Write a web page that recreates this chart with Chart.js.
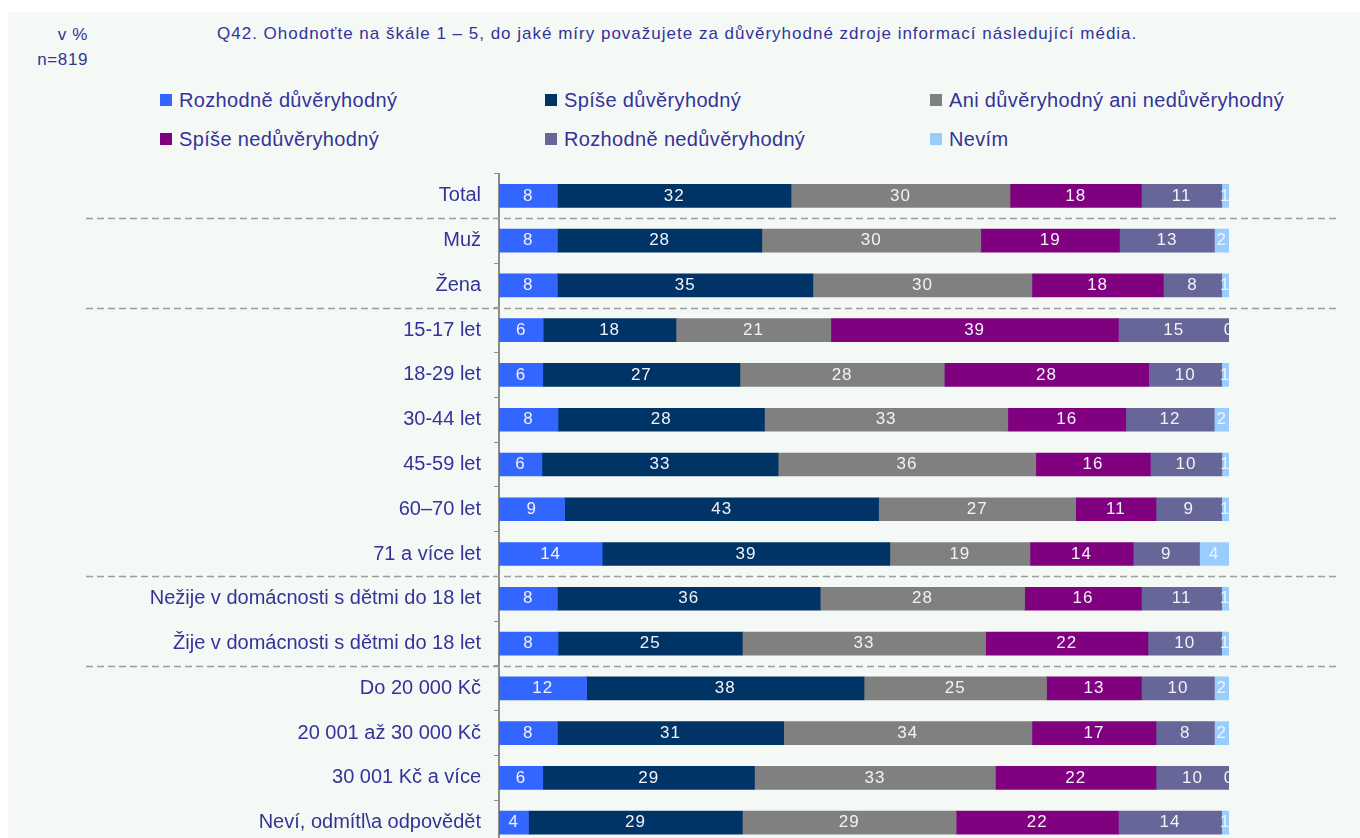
<!DOCTYPE html>
<html>
<head>
<meta charset="utf-8">
<script src="https://cdn.jsdelivr.net/npm/chart.js@4/dist/chart.umd.min.js"></script>
<style>
  html, body { margin: 0; padding: 0; width: 1360px; height: 838px; overflow: hidden; background: #ffffff; }
  body { font-family: "Liberation Sans", Arial, sans-serif; }
  #panel { position: absolute; left: 8px; top: 12px; width: 1352px; height: 826px; background: #f5f9f6; }
  .txt { position: absolute; color: #333399; white-space: nowrap; line-height: 1; }
  #unit { right: 1272px; top: 22px; font-size: 17px; text-align: right; line-height: 25px; letter-spacing: 0.6px; }
  #title { left: 217px; top: 25px; font-size: 17px; letter-spacing: 1px; }
  .leg { position: absolute; display: flex; align-items: center; color: #333399; font-size: 20px; white-space: nowrap; letter-spacing: 0.35px; }
  .leg i { display: inline-block; width: 12px; height: 12px; margin-right: 7px; }
  #wrap { position: absolute; left: 0; top: 0; width: 1360px; height: 870px; }
</style>
</head>
<body>
<div id="panel"></div>
<div id="unit" class="txt">v %<br>n=819</div>
<div id="title" class="txt">Q42. Ohodnoťte na škále 1 – 5, do jaké míry považujete za důvěryhodné zdroje informací následující média.</div>
<div id="legend"></div>
<div id="wrap"><canvas id="chart" width="1360" height="870"></canvas></div>
<script>
// Respondent groups (rows)
const categories = [
  'Total', 'Muž', 'Žena',
  '15-17 let', '18-29 let', '30-44 let', '45-59 let', '60–70 let', '71 a více let',
  'Nežije v domácnosti s dětmi do 18 let', 'Žije v domácnosti s dětmi do 18 let',
  'Do 20 000 Kč', '20 001 až 30 000 Kč', '30 001 Kč a více', 'Neví, odmítl\\a odpovědět'
];

// Answer scale
const seriesNames = [
  'Rozhodně důvěryhodný', 'Spíše důvěryhodný', 'Ani důvěryhodný ani nedůvěryhodný',
  'Spíše nedůvěryhodný', 'Rozhodně nedůvěryhodný', 'Nevím'
];
const seriesColors = ['#3366ff', '#003366', '#808080', '#800080', '#666699', '#99ccff'];

// Shares in % per row
const rozhodneDuveryhodny   = [8, 8, 8, 6, 6, 8, 6, 9, 14, 8, 8, 12, 8, 6, 4];
const spiseDuveryhodny      = [32, 28, 35, 18, 27, 28, 33, 43, 39, 36, 25, 38, 31, 29, 29];
const aniAni                = [30, 30, 30, 21, 28, 33, 36, 27, 19, 28, 33, 25, 34, 33, 29];
const spiseNeduveryhodny    = [18, 19, 18, 39, 28, 16, 16, 11, 14, 16, 22, 13, 17, 22, 22];
const rozhodneNeduveryhodny = [11, 13, 8, 15, 10, 12, 10, 9, 9, 11, 10, 10, 8, 10, 14];
const nevim                 = [1, 2, 1, 0, 1, 2, 1, 1, 4, 1, 1, 2, 2, 0, 1];

// Rows after which a group separator is drawn
const groupEnds = [0, 2, 8, 10];

const series = [rozhodneDuveryhodny, spiseDuveryhodny, aniAni, spiseNeduveryhodny, rozhodneNeduveryhodny, nevim];
const FONT = '"Liberation Sans", Arial, sans-serif';
const TEXT = '#333399';

// Legend: three columns, two rows
const legendCols = [160, 545, 930];
const legendRows = [100, 139];
const legendEl = document.getElementById('legend');
seriesNames.forEach((name, k) => {
  const d = document.createElement('div');
  d.className = 'leg';
  d.style.left = legendCols[k % 3] + 'px';
  d.style.top = (legendRows[Math.floor(k / 3)] - 12) + 'px';
  d.style.height = '24px';
  d.innerHTML = '<i style="background:' + seriesColors[k] + '"></i><span></span>';
  d.querySelector('span').textContent = name;
  legendEl.appendChild(d);
});

// 100 % stacked: each row is scaled to its own total
const rowTotals = categories.map((_, i) => series.reduce((s, arr) => s + arr[i], 0));

const datasets = series.map((arr, k) => ({
  label: seriesNames[k],
  data: arr.map((v, i) => v / rowTotals[i] * 100),
  valueLabels: arr,
  backgroundColor: seriesColors[k],
  borderWidth: 0,
  barThickness: 23
}));

// Value labels inside each segment
const segmentLabels = {
  id: 'segmentLabels',
  afterDatasetsDraw(chart) {
    const { ctx, chartArea } = chart;
    ctx.save();
    ctx.beginPath();
    ctx.rect(chartArea.left, chartArea.top, chartArea.right - chartArea.left + 1, chartArea.bottom - chartArea.top);
    ctx.clip();
    ctx.font = '17px ' + FONT;
    ctx.fillStyle = '#f2f2f8';
    ctx.textAlign = 'center';
    ctx.textBaseline = 'middle';
    if ('letterSpacing' in ctx) ctx.letterSpacing = '1px';
    chart.data.datasets.forEach((ds, k) => {
      const meta = chart.getDatasetMeta(k);
      meta.data.forEach((el, i) => {
        const x = (el.x + el.base) / 2;
        ctx.fillText(String(ds.valueLabels[i]), x, el.y);
      });
    });
    ctx.restore();
  }
};

// Dashed lines between respondent groups
const groupSeparators = {
  id: 'groupSeparators',
  afterDraw(chart) {
    const { ctx } = chart;
    const y = chart.scales.y;
    ctx.save();
    ctx.strokeStyle = '#9c9c9c';
    ctx.lineWidth = 1.5;
    ctx.setLineDash([7, 4]);
    groupEnds.forEach(i => {
      const py = Math.round((y.getPixelForValue(i) + y.getPixelForValue(i + 1)) / 2) + 0.5;
      ctx.beginPath();
      ctx.moveTo(86, py);
      ctx.lineTo(1337, py);
      ctx.stroke();
    });
    ctx.restore();
  }
};

new Chart(document.getElementById('chart'), {
  type: 'bar',
  data: { labels: categories, datasets },
  plugins: [segmentLabels, groupSeparators],
  options: {
    indexAxis: 'y',
    responsive: false,
    animation: false,
    devicePixelRatio: 1,
    layout: { padding: { left: 0, right: 131, top: 173.5, bottom: 21.5 } },
    plugins: { legend: { display: false }, tooltip: { enabled: false }, title: { display: false } },
    scales: {
      x: { display: false, stacked: true, min: 0, max: 100 },
      y: {
        stacked: true,
        afterFit(scale) { scale.width = 499; },
        grid: { display: true, drawOnChartArea: false, drawTicks: true, tickLength: 5, color: '#8c8c8c', lineWidth: 1, offset: true },
        border: { display: true, color: '#8c8c8c', width: 2 },
        ticks: { color: TEXT, font: { family: FONT, size: 20 }, padding: 13, autoSkip: false }
      }
    }
  }
});
</script>
</body>
</html>
